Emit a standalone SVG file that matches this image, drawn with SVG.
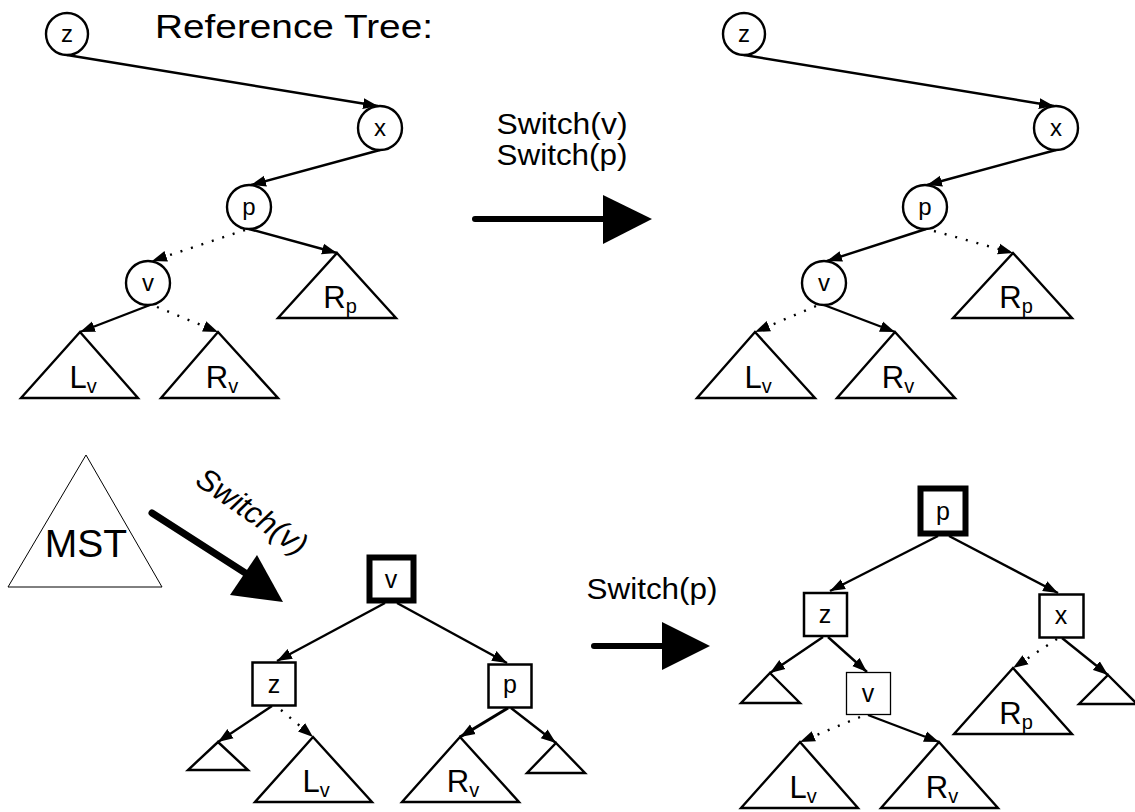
<svg xmlns="http://www.w3.org/2000/svg" width="1135" height="812" viewBox="0 0 1135 812">
<style>
text{font-family:"Liberation Sans",Arial,sans-serif;fill:#000}
.n{font-size:24px;text-anchor:middle}
.sq{font-size:25px;text-anchor:middle}
.lbl{font-size:31px;text-anchor:middle}
.sub{font-size:20px}
.big{font-size:29px;text-anchor:middle}
circle,rect,polygon.t{fill:#fff;stroke:#000;stroke-width:2.4}
.e{stroke:#000;stroke-width:2.4;fill:none;marker-end:url(#ah)}
.d{stroke:#000;stroke-width:2.4;fill:none;stroke-dasharray:2 9;marker-end:url(#ah)}
</style>
<defs>
<marker id="ah" markerUnits="userSpaceOnUse" markerWidth="16" markerHeight="12" refX="15" refY="6" orient="auto">
<path d="M0,0.5 L15,6 L0,11.5 z" fill="#000"/>
</marker>
</defs>

<text x="155" y="38" style="font-size:33px" textLength="278" lengthAdjust="spacingAndGlyphs">Reference Tree:</text>

<g id="connectors">
<line class="e" x1="67" y1="55" x2="378" y2="106"/>
<line class="e" x1="380" y1="150" x2="251" y2="185"/>
<line class="d" x1="245" y1="230" x2="152" y2="261"/>
<line class="e" x1="249" y1="229" x2="337" y2="253"/>
<line class="e" x1="150" y1="305" x2="80" y2="332"/>
<line class="d" x1="157" y1="307" x2="218" y2="332"/>

<line class="e" x1="744" y1="55" x2="1054" y2="106"/>
<line class="e" x1="1056" y1="150" x2="927" y2="185"/>
<line class="e" x1="926" y1="229" x2="827" y2="261"/>
<line class="d" x1="934" y1="231" x2="1013" y2="253"/>
<line class="d" x1="816" y1="306" x2="755" y2="332"/>
<line class="e" x1="824" y1="305" x2="895" y2="332"/>

<line class="e" x1="385" y1="603" x2="277" y2="661"/>
<line class="e" x1="397" y1="603" x2="507" y2="663"/>
<line class="e" x1="272" y1="706" x2="218" y2="742"/>
<line class="d" x1="281" y1="710" x2="313" y2="737"/>
<line class="e" x1="508" y1="708" x2="460" y2="737" style="stroke-width:3.2"/>
<line class="e" x1="511" y1="708" x2="556" y2="743"/>

<line class="e" x1="938" y1="536" x2="830" y2="591"/>
<line class="e" x1="949" y1="536" x2="1058" y2="593"/>
<line class="e" x1="823" y1="637" x2="770" y2="673"/>
<line class="e" x1="828" y1="637" x2="867" y2="672"/>
<line class="d" x1="860" y1="717" x2="800" y2="742"/>
<line class="e" x1="868" y1="715" x2="939" y2="742"/>
<line class="d" x1="1057" y1="639" x2="1013" y2="668"/>
<line class="e" x1="1062" y1="638" x2="1108" y2="675"/>
</g>

<g id="arrow-top">
<text class="big" x="562" y="134" textLength="131" lengthAdjust="spacingAndGlyphs">Switch(v)</text>
<text class="big" x="562" y="165" textLength="131" lengthAdjust="spacingAndGlyphs">Switch(p)</text>
<line x1="475" y1="219" x2="606" y2="219" stroke="#000" stroke-width="6" stroke-linecap="round"/>
<polygon points="603,195 652,219 603,244" fill="#000"/>
</g>
<g id="arrow-diag">
<text x="0" y="0" style="font-size:31px;font-style:italic;text-anchor:middle" transform="translate(246,520) rotate(35)">Switch(v)</text>
<line x1="152" y1="513" x2="250" y2="576" stroke="#000" stroke-width="7" stroke-linecap="round"/>
<polygon points="257,555 283,602 230,595" fill="#000"/>
</g>
<g id="arrow-bottom">
<text class="big" x="652" y="599" textLength="131" lengthAdjust="spacingAndGlyphs">Switch(p)</text>
<line x1="594" y1="646" x2="665" y2="646" stroke="#000" stroke-width="6" stroke-linecap="round"/>
<polygon points="662,622 710,646 662,670" fill="#000"/>
</g>

<!-- top-left tree -->
<g id="tl-z"><circle cx="67" cy="34" r="21"/><text class="n" x="67" y="42">z</text></g>
<g id="tl-x"><circle cx="380" cy="128" r="22"/><text class="n" x="380" y="136">x</text></g>
<g id="tl-p"><circle cx="249" cy="207" r="22"/><text class="n" x="249" y="215">p</text></g>
<g id="tl-v"><circle cx="148" cy="283" r="22"/><text class="n" x="148" y="291">v</text></g>
<g id="tl-Rp"><polygon class="t" points="337,253 396,318 278,318"/><text class="lbl" x="340" y="308">R<tspan class="sub" dy="5">p</tspan></text></g>
<g id="tl-Lv"><polygon class="t" points="80,332 138,398 21,398"/><text class="lbl" x="83" y="388">L<tspan class="sub" dy="5">v</tspan></text></g>
<g id="tl-Rv"><polygon class="t" points="218,332 278,398 161,398"/><text class="lbl" x="222" y="388">R<tspan class="sub" dy="5">v</tspan></text></g>

<!-- top-right tree -->
<g id="tr-z"><circle cx="744" cy="34" r="21"/><text class="n" x="744" y="42">z</text></g>
<g id="tr-x"><circle cx="1056" cy="128" r="22"/><text class="n" x="1056" y="136">x</text></g>
<g id="tr-p"><circle cx="925" cy="207" r="22"/><text class="n" x="925" y="215">p</text></g>
<g id="tr-v"><circle cx="824" cy="283" r="22"/><text class="n" x="824" y="291">v</text></g>
<g id="tr-Rp"><polygon class="t" points="1013,253 1072,318 953,318"/><text class="lbl" x="1016" y="308">R<tspan class="sub" dy="5">p</tspan></text></g>
<g id="tr-Lv"><polygon class="t" points="755,332 815,398 697,398"/><text class="lbl" x="758" y="388">L<tspan class="sub" dy="5">v</tspan></text></g>
<g id="tr-Rv"><polygon class="t" points="895,332 955,398 837,398"/><text class="lbl" x="898" y="388">R<tspan class="sub" dy="5">v</tspan></text></g>

<!-- MST -->
<g id="mst"><polygon points="86,455 162,587 8,587" fill="#fff" stroke="#000" stroke-width="1"/><text x="86" y="557" style="font-size:39px;text-anchor:middle">MST</text></g>

<!-- bottom-middle tree -->
<g id="bm-v"><rect x="369.5" y="557.5" width="44" height="43" style="stroke-width:6"/><text class="sq" x="391" y="588">v</text></g>
<g id="bm-z"><rect x="252.5" y="662.5" width="43" height="43" style="stroke-width:2.5"/><text class="sq" x="274" y="693">z</text></g>
<g id="bm-p"><rect x="488.5" y="664.5" width="43" height="43" style="stroke-width:2.5"/><text class="sq" x="510" y="693">p</text></g>
<g id="bm-t1"><polygon class="t" points="218,742 248,770 188,770"/></g>
<g id="bm-Lv"><polygon class="t" points="313,737 372,802 255,802"/><text class="lbl" x="316" y="792">L<tspan class="sub" dy="5">v</tspan></text></g>
<g id="bm-Rv"><polygon class="t" points="460,737 519,802 402,802"/><text class="lbl" x="463" y="792">R<tspan class="sub" dy="5">v</tspan></text></g>
<g id="bm-t2"><polygon class="t" points="556,743 585,773 527,773"/></g>

<!-- bottom-right tree -->
<g id="br-p"><rect x="920.5" y="488.5" width="45" height="45" style="stroke-width:6"/><text class="sq" x="943" y="520">p</text></g>
<g id="br-z"><rect x="804" y="593" width="43" height="43" style="stroke-width:2.5"/><text class="sq" x="825" y="623">z</text></g>
<g id="br-x"><rect x="1039.5" y="594.5" width="44" height="43" style="stroke-width:2.5"/><text class="sq" x="1061" y="624">x</text></g>
<g id="br-v"><rect x="846.5" y="672.5" width="44" height="42" style="stroke-width:1.3"/><text class="sq" x="868" y="702">v</text></g>
<g id="br-t1"><polygon class="t" points="770,673 800,703 741,703"/></g>
<g id="br-Lv"><polygon class="t" points="800,742 858,808 741,808"/><text class="lbl" x="803" y="798">L<tspan class="sub" dy="5">v</tspan></text></g>
<g id="br-Rv"><polygon class="t" points="939,742 998,808 881,808"/><text class="lbl" x="942" y="798">R<tspan class="sub" dy="5">v</tspan></text></g>
<g id="br-Rp"><polygon class="t" points="1013,668 1072,734 954,734"/><text class="lbl" x="1016" y="724">R<tspan class="sub" dy="5">p</tspan></text></g>
<g id="br-t2"><polygon class="t" points="1108,675 1137,704 1079,704"/></g>
</svg>
